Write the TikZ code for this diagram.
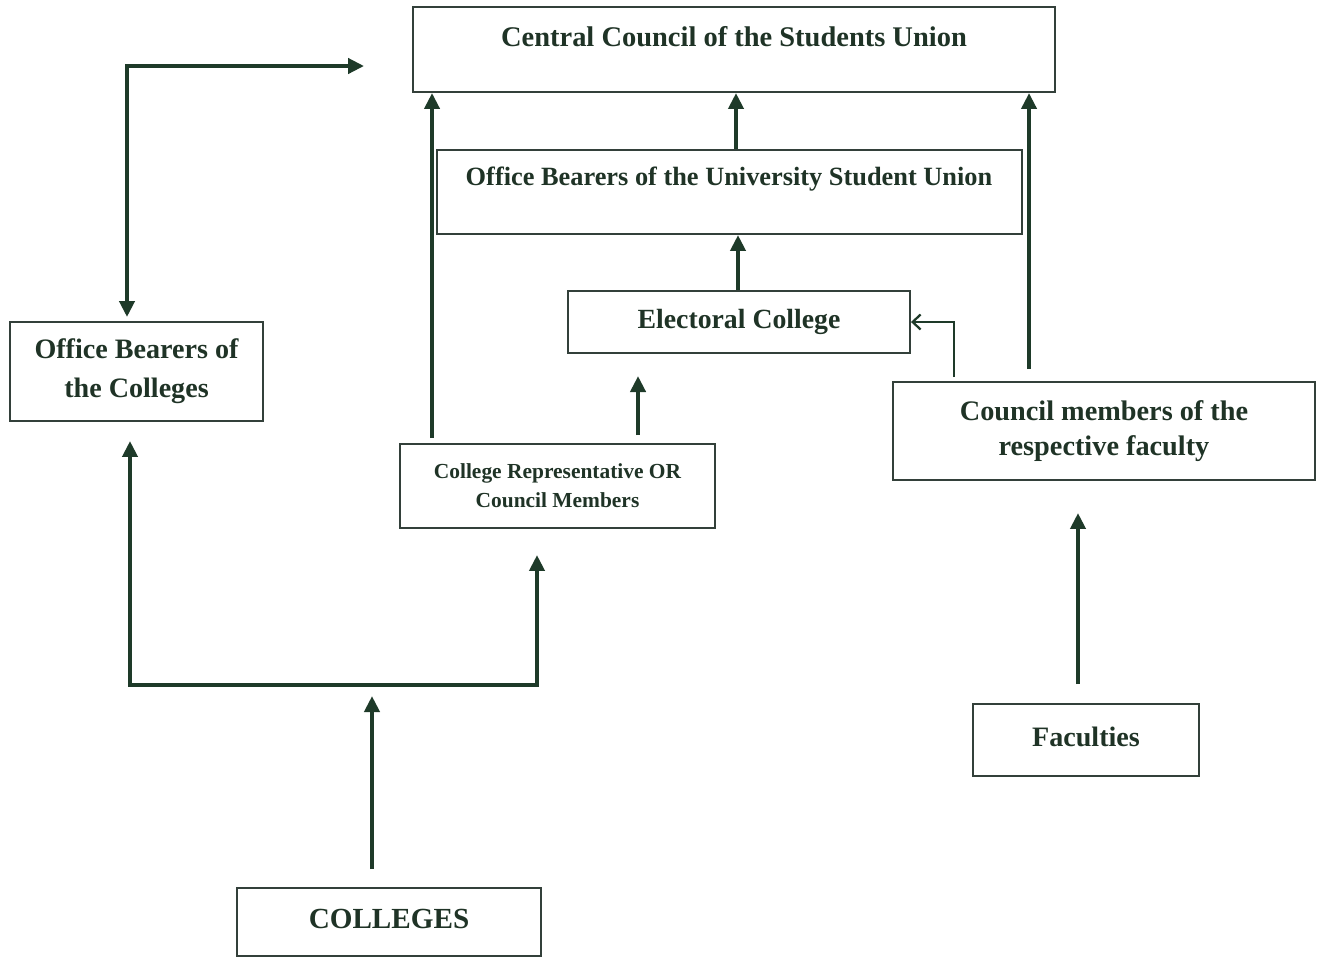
\documentclass[tikz,border=0pt]{standalone}
\usepackage{fontspec}
\setmainfont{Liberation Serif}
\usetikzlibrary{arrows.meta,calc}
\definecolor{ink}{HTML}{1E3A29}
\definecolor{txt}{HTML}{1F3326}
\definecolor{frame}{HTML}{33403A}
\tikzset{
  box/.style={draw=frame, line width=0.04cm, rectangle, inner sep=0pt, align=center, text=txt, font=\bfseries},
  lbl/.style={inner sep=0pt, align=center, text=txt, font=\bfseries},
  arr/.style={draw=ink, line width=0.08cm, -{Triangle[length=0.32cm,width=0.3cm]}},
  darr/.style={draw=ink, line width=0.08cm, {Triangle[length=0.32cm,width=0.3cm]}-{Triangle[length=0.32cm,width=0.3cm]}},
  tarr/.style={draw=ink, line width=0.045cm, -{Straight Barb[length=0.16cm,width=0.3cm]}},
}
\newcommand{\fs}[1]{\fontsize{#1}{1.25\dimexpr #1pt\relax}\selectfont}
\begin{document}
\begin{tikzpicture}[x=0.02cm,y=-0.02cm]
\useasboundingbox (0,0) rectangle (1320,958);
% boxes
\node[box, minimum width=12.84cm, minimum height=1.7cm] (cc) at (734,49.5) {};
\node[lbl, font=\bfseries\fs{16.2}] (cct) at (734,37) {Central Council of the Students Union};
\node[box, minimum width=11.7cm, minimum height=1.68cm] (obu) at (729.5,192) {};
\node[lbl, font=\bfseries\fs{15}] (obut) at (729,179) {Office Bearers of the University Student Union};
\node[box, minimum width=6.84cm, minimum height=1.24cm, font=\bfseries\fs{15.8}] (ec) at (739,322) {\raisebox{-0.03cm}{Electoral College}};
\node[box, minimum width=5.06cm, minimum height=1.98cm, font=\bfseries\fs{16}] (obc) at (136.5,371.5) {Office Bearers of\\[2pt]the Colleges};
\node[box, minimum width=6.3cm, minimum height=1.68cm, font=\bfseries\fs{12.2}] (cr) at (557.5,486) {College Representative OR\\[1.5pt]\raisebox{0.02cm}{Council Members}};
\node[box, minimum width=8.44cm, minimum height=1.96cm, font=\bfseries\fs{16.1}] (cm) at (1104,431) {\raisebox{-0.08cm}{Council members of the}\\[2pt]respective faculty};
\node[box, minimum width=4.52cm, minimum height=1.44cm, font=\bfseries\fs{16}] (fac) at (1086,740) {\raisebox{0.13cm}{Faculties}};
\node[box, minimum width=6.08cm, minimum height=1.36cm, font=\bfseries\fs{16.6}] (col) at (389,922) {\raisebox{0.12cm}{COLLEGES}};
% connector anchor points
\coordinate (p1) at ($(obu.north)+(6.5,0)$);
\coordinate (p2) at ($(ec.north)+(-1,0)$);
\coordinate (p3) at ($(cr.north west)+(33,-5)$);
\coordinate (p4) at ($(cr.north west)+(239,-8)$);
\coordinate (p4e) at ($(cr.north west)+(239,-67)$);
\coordinate (p5) at ($(cm.north west)+(137,-12)$);
\coordinate (p6) at ($(cm.north west)+(62,-4)$);
\coordinate (p7) at ($(fac.north)+(-8,-19)$);
\coordinate (p7e) at ($(cm.south)+(-26,32)$);
\coordinate (p8) at ($(col.north)+(-17,-18)$);
\coordinate (p8e) at ($(col.north)+(-17,-191)$);
\coordinate (p9a) at ($(obc.south)+(-6.5,19)$);
\coordinate (p9c) at ($(cr.south)+(-20.5,156)$);
\coordinate (p9b) at ($(cr.south)+(-20.5,26)$);
\coordinate (p10a) at ($(obc.north)+(-9.5,-4)$);
\coordinate (p10b) at ($(cc.west)+(-48,16.5)$);
% connectors
\draw[arr] (p1) -- (p1 |- cc.south);
\draw[arr] (p2) -- (p2 |- obu.south);
\draw[arr] (p3) -- (p3 |- cc.south);
\draw[arr] (p4) -- (p4e);
\draw[arr] (p5) -- (p5 |- cc.south);
\draw[tarr] (p6) |- (ec.east);
\draw[arr] (p7) -- (p7e);
\draw[arr] (p8) -- (p8e);
\draw[darr] (p9a) |- (p9c) -- (p9b);
\draw[darr] (p10a) |- (p10b);
\end{tikzpicture}
\end{document}
